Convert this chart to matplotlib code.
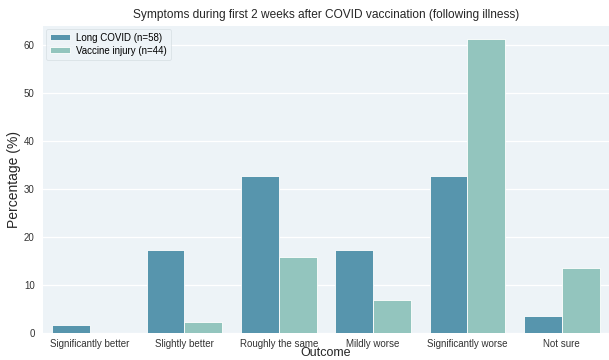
import numpy as np
import matplotlib
matplotlib.use("Agg")
import matplotlib.pyplot as plt

# Outcome categories and percentages per group
outcomes = ["Significantly better", "Slightly better", "Roughly the same",
            "Mildly worse", "Significantly worse", "Not sure"]
long_covid = [1.72, 17.24, 32.76, 17.24, 32.76, 3.45]      # n=58
vaccine_injury = [0.0, 2.27, 15.91, 6.82, 61.36, 13.64]    # n=44
groups = ["Long COVID (n=58)", "Vaccine injury (n=44)"]
colors = ["#5795ad", "#93c5be"]

plt.rcParams['font.family'] = ['Liberation Sans', 'DejaVu Sans']

fig = plt.figure(figsize=(6.09, 3.6), dpi=100)
ax = fig.add_axes([0.0706, 0.075, 0.9294, 0.853])
ax.set_facecolor("#edf3f7")

x = np.arange(len(outcomes))
w = 0.4
ax.bar(x - w / 2, long_covid, w, color=colors[0], edgecolor="white", linewidth=0.6,
       label=groups[0], zorder=2)
ax.bar(x + w / 2, vaccine_injury, w, color=colors[1], edgecolor="white", linewidth=0.6,
       label=groups[1], zorder=2)

ax.set_xlim(-0.5, 5.5)
ax.set_ylim(0, 64)
ax.set_yticks([0, 10, 20, 30, 40, 50, 60])
ax.set_xticks(x)
ax.set_xticklabels(outcomes)
ax.grid(axis="y", color="white", linewidth=0.9, zorder=0)
ax.tick_params(axis="x", length=0, labelsize=7, colors="#333333", pad=4)
ax.tick_params(axis="y", length=0, labelsize=7, colors="#333333", pad=6)
for s in ax.spines.values():
    s.set_visible(False)

ax.set_title("Symptoms during first 2 weeks after COVID vaccination (following illness)",
             fontsize=8.6, color="#262626", pad=6)
ax.set_xlabel("Outcome", fontsize=9, color="#262626", labelpad=-1)
ax.set_ylabel("Percentage (%)", fontsize=10, color="#262626", labelpad=2)

leg = ax.legend(loc="upper left", fontsize=7, frameon=True, facecolor="#edf3f7",
                edgecolor="#d5dde2", handlelength=2.1, handleheight=0.6,
                handletextpad=0.6, labelspacing=0.3, borderpad=0.4,
                borderaxespad=0.3)
leg.get_frame().set_linewidth(0.6)

fig.savefig("out.png", dpi=100, facecolor="white")
